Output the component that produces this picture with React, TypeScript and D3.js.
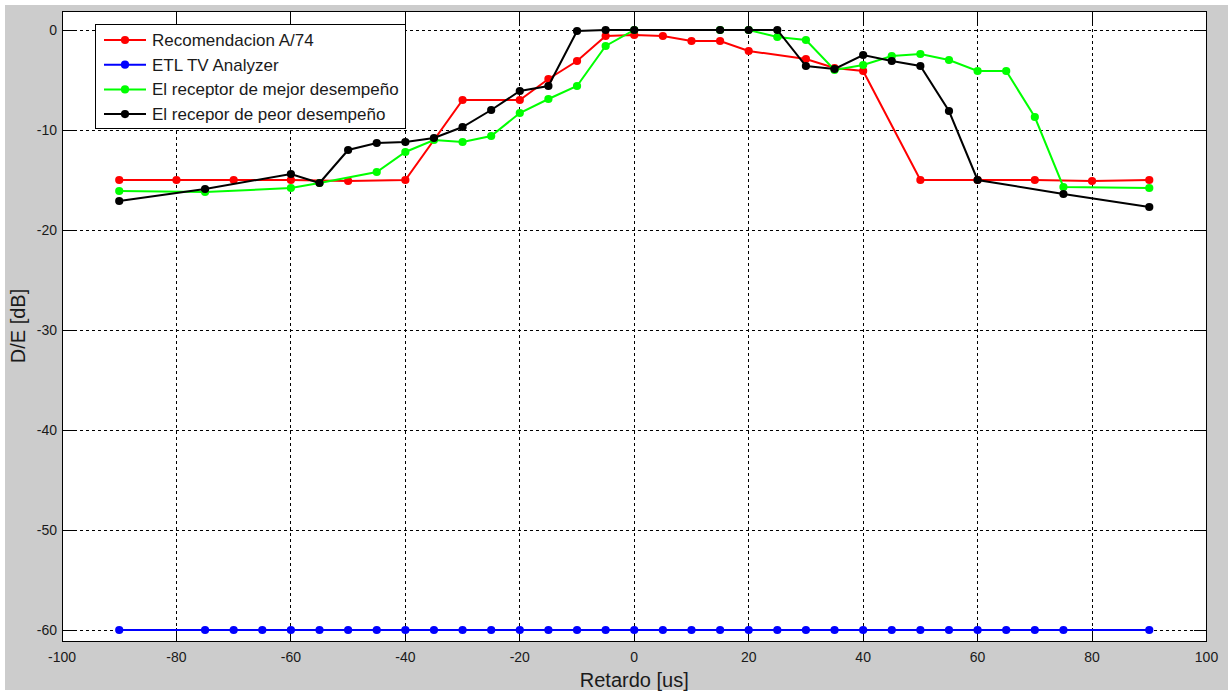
import React from "react";
import * as d3 from "d3";

const xTicks = [-100, -80, -60, -40, -20, 0, 20, 40, 60, 80, 100];
const yTicks = [0, -10, -20, -30, -40, -50, -60];

const seriesNames = [
  "Recomendacion A/74",
  "ETL TV Analyzer",
  "El receptor de mejor desempeño",
  "El recepor de peor desempeño",
];

const redX = [-90, -80, -70, -60, -50, -40, -30, -20, -15, -10, -5, 0, 5, 10, 15, 20, 30, 35, 40, 50, 60, 70, 80, 90];
const redY = [-15, -15, -15, -15, -15.1, -15, -7, -7, -4.9, -3.1, -0.6, -0.5, -0.6, -1.1, -1.1, -2.1, -2.9, -3.8, -4.1, -15, -15, -15, -15.1, -15];

const blueX = [-90, -75, -70, -65, -60, -55, -50, -45, -40, -35, -30, -25, -20, -15, -10, -5, 0, 5, 10, 15, 20, 25, 30, 35, 40, 45, 50, 55, 60, 65, 70, 75, 90];
const blueY = [-60, -60, -60, -60, -60, -60, -60, -60, -60, -60, -60, -60, -60, -60, -60, -60, -60, -60, -60, -60, -60, -60, -60, -60, -60, -60, -60, -60, -60, -60, -60, -60, -60];

const greenX = [-90, -75, -60, -55, -45, -40, -35, -30, -25, -20, -15, -10, -5, 0, 15, 20, 25, 30, 35, 40, 45, 50, 55, 60, 65, 70, 75, 90];
const greenY = [-16.1, -16.2, -15.8, -15.3, -14.2, -12.2, -11.0, -11.2, -10.6, -8.3, -6.9, -5.6, -1.6, 0, 0, 0, -0.7, -1.0, -4.0, -3.5, -2.6, -2.4, -3.0, -4.1, -4.1, -8.7, -15.7, -15.8];

const blackX = [-90, -75, -60, -55, -50, -45, -40, -35, -30, -25, -20, -15, -10, -5, 0, 15, 20, 25, 30, 35, 40, 45, 50, 55, 60, 75, 90];
const blackY = [-17.1, -15.9, -14.4, -15.3, -12.0, -11.3, -11.2, -10.8, -9.7, -8.0, -6.1, -5.6, -0.1, 0, 0, 0, 0, 0, -3.6, -3.9, -2.5, -3.1, -3.6, -8.1, -15.0, -16.4, -17.7];

const colors = ["#ff0000", "#0000ff", "#00ff00", "#000000"];

const W = 1231;
const H = 695;
const PL = 62, PR = 1206.5, PT = 11, PB = 641;

export default function App() {
  const x = d3.scaleLinear().domain([-100, 100]).range([PL, PR]);
  const y = d3.scaleLinear().domain([1.9, -61.1]).range([PT, PB]);

  const series = [
    { xs: redX, ys: redY },
    { xs: blueX, ys: blueY },
    { xs: greenX, ys: greenY },
    { xs: blackX, ys: blackY },
  ];

  const line = d3
    .line<[number, number]>()
    .x((d) => x(d[0]))
    .y((d) => y(d[1]));

  const font = "'Liberation Sans', Arial, sans-serif";
  const tickLen = 13;
  const mr = 4.1;

  return (
    <svg
      width={W}
      height={H}
      style={{ position: "absolute", left: 0, top: 0 }}
      fontFamily={font}
    >
      <rect x={0} y={0} width={W} height={H} fill="#ffffff" />
      <rect x={5} y={5} width={1223} height={685} fill="#cccccc" />
      <rect x={PL} y={PT} width={PR - PL} height={PB - PT} fill="#ffffff" />

      {/* grid */}
      <g stroke="#000" strokeWidth={1} strokeDasharray="3,3" shapeRendering="crispEdges">
        {xTicks
          .filter((t) => t > -100 && t < 100)
          .map((t) => (
            <line key={"gx" + t} x1={x(t)} x2={x(t)} y1={PT} y2={PB} />
          ))}
        {yTicks.map((t) => (
          <line key={"gy" + t} x1={PL} x2={PR} y1={y(t)} y2={y(t)} />
        ))}
      </g>

      {/* ticks */}
      <g stroke="#000" strokeWidth={1} shapeRendering="crispEdges">
        {xTicks.map((t) => (
          <g key={"tx" + t}>
            <line x1={x(t)} x2={x(t)} y1={PB} y2={PB - tickLen} />
            <line x1={x(t)} x2={x(t)} y1={PT} y2={PT + tickLen} />
          </g>
        ))}
        {yTicks.map((t) => (
          <g key={"ty" + t}>
            <line x1={PL} x2={PL + tickLen} y1={y(t)} y2={y(t)} />
            <line x1={PR} x2={PR - tickLen} y1={y(t)} y2={y(t)} />
          </g>
        ))}
      </g>

      {/* series */}
      {series.map((s, i) => {
        const pts: [number, number][] = s.xs.map((v, j) => [v, s.ys[j]]);
        return (
          <g key={"s" + i}>
            <path d={line(pts) || ""} fill="none" stroke={colors[i]} strokeWidth={2} />
            {pts.map((p, j) => (
              <circle key={j} cx={x(p[0])} cy={y(p[1])} r={mr} fill={colors[i]} />
            ))}
          </g>
        );
      })}

      {/* frame */}
      <rect
        x={PL}
        y={PT}
        width={PR - PL}
        height={PB - PT}
        fill="none"
        stroke="#000"
        strokeWidth={1}
        shapeRendering="crispEdges"
      />

      {/* tick labels */}
      <g fontSize={14} fill="#1a1a1a">
        {xTicks.map((t) => (
          <text key={"lx" + t} x={x(t)} y={PB + 21} textAnchor="middle">
            {t}
          </text>
        ))}
        {yTicks.map((t) => (
          <text key={"ly" + t} x={PL - 5} y={y(t) + 5} textAnchor="end">
            {t}
          </text>
        ))}
      </g>

      {/* axis labels */}
      <text x={(PL + PR) / 2} y={687} textAnchor="middle" fontSize={20} fill="#1a1a1a">
        Retardo [us]
      </text>
      <text
        transform={`translate(25, ${(PT + PB) / 2}) rotate(-90)`}
        textAnchor="middle"
        fontSize={20}
        fill="#1a1a1a"
      >
        D/E [dB]
      </text>

      {/* legend */}
      <g>
        <rect x={95} y={24} width={310} height={104} fill="#ffffff" stroke="#000" strokeWidth={1} shapeRendering="crispEdges" />
        {seriesNames.map((name, i) => {
          const ly = 40 + i * 24.7;
          return (
            <g key={"lg" + i}>
              <line x1={104} x2={146} y1={ly} y2={ly} stroke={colors[i]} strokeWidth={2} />
              <circle cx={125} cy={ly} r={mr} fill={colors[i]} />
              <text x={152} y={ly + 6} fontSize={17} fill="#1a1a1a">
                {name}
              </text>
            </g>
          );
        })}
      </g>
    </svg>
  );
}
